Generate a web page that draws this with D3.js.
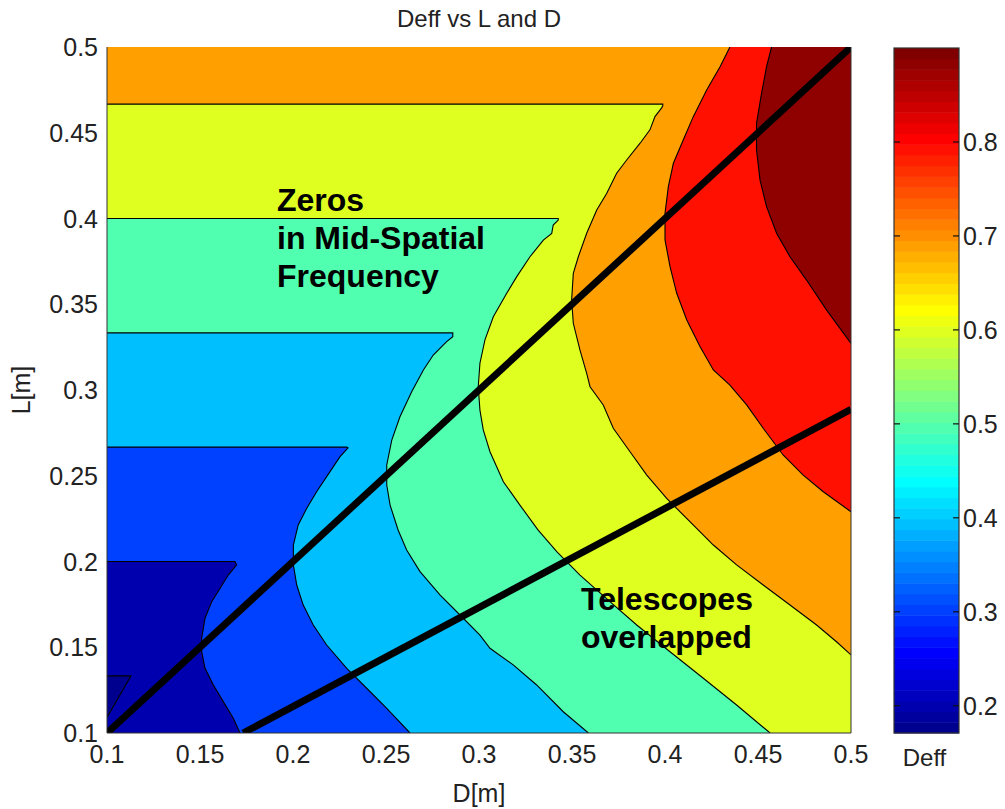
<!DOCTYPE html>
<html>
<head>
<meta charset="utf-8">
<script src="https://cdn.jsdelivr.net/npm/d3@7"></script>
<style>
  html, body { margin: 0; padding: 0; background: #fff; }
  svg { display: block; }
  text { font-family: "Liberation Sans", Arial, sans-serif; fill: #222; }
</style>
</head>
<body>
<svg id="chart" width="1005" height="809"></svg>
<script>
// Contour levels of Deff and the colorbar range
const levels = [0.2, 0.3, 0.4, 0.5, 0.6, 0.7, 0.8, 0.9];
const colorRange = [0.171, 0.9];
const xTicks = [0.1, 0.15, 0.2, 0.25, 0.3, 0.35, 0.4, 0.45, 0.5];
const yTicks = [0.1, 0.15, 0.2, 0.25, 0.3, 0.35, 0.4, 0.45, 0.5];
const cbTicks = [0.2, 0.3, 0.4, 0.5, 0.6, 0.7, 0.8];

// Iso-lines as [D, L] points, one array per level (high values lie to the upper right)
const iso020 = [[0.1, 0.1333], [0.1129, 0.1333], [0.1, 0.109]];
const iso030 = [[0.1, 0.2], [0.1688, 0.2], [0.1697, 0.198], [0.1652, 0.1921], [0.1608, 0.1844],
  [0.1563, 0.1766], [0.1527, 0.1669], [0.1509, 0.1552], [0.1509, 0.1474], [0.1527, 0.1377],
  [0.1572, 0.128], [0.1625, 0.1183], [0.1679, 0.1086], [0.1715, 0.1]];
const iso040 = [[0.1, 0.2667], [0.2289, 0.2667], [0.2296, 0.2662], [0.2253, 0.2611], [0.2199, 0.2524],
  [0.2127, 0.2407], [0.2074, 0.231], [0.2028, 0.2213], [0.2002, 0.2096], [0.2002, 0.198],
  [0.202, 0.1863], [0.2055, 0.1746], [0.2109, 0.163], [0.2181, 0.1513], [0.2289, 0.1377],
  [0.2396, 0.1261], [0.2504, 0.1144], [0.2629, 0.1]];
const iso050 = [[0.1, 0.3333], [0.2859, 0.3333], [0.2859, 0.3311], [0.2826, 0.3282], [0.2754, 0.3204],
  [0.2701, 0.3117], [0.2638, 0.299], [0.2575, 0.2844], [0.2531, 0.2708], [0.2504, 0.2563],
  [0.2504, 0.2446], [0.2522, 0.2329], [0.2565, 0.2184], [0.2611, 0.2067], [0.2683, 0.1941],
  [0.279, 0.1805], [0.2898, 0.1688], [0.3005, 0.1571], [0.3059, 0.1494], [0.3184, 0.1397],
  [0.331, 0.128], [0.3453, 0.1124], [0.3588, 0.1]];
const iso060 = [[0.1, 0.4], [0.3426, 0.4], [0.3426, 0.3991], [0.3399, 0.3962], [0.3391, 0.3913],
  [0.3346, 0.3874], [0.3274, 0.3777], [0.3203, 0.3661], [0.3149, 0.3564], [0.3077, 0.3427],
  [0.3032, 0.3292], [0.3005, 0.3156], [0.2996, 0.3019], [0.3005, 0.2883], [0.3023, 0.2767],
  [0.3059, 0.264], [0.3131, 0.2465], [0.322, 0.2329], [0.3317, 0.2184], [0.3418, 0.2057],
  [0.3543, 0.1921], [0.3704, 0.1766], [0.3848, 0.163], [0.4027, 0.1474], [0.4206, 0.1319],
  [0.4385, 0.1163], [0.4565, 0.1]];
const iso070 = [[0.1, 0.4667], [0.3988, 0.4667], [0.3988, 0.4657], [0.3982, 0.4645], [0.3946, 0.4594],
  [0.3919, 0.4517], [0.3866, 0.4439], [0.3794, 0.4341], [0.374, 0.4264], [0.3687, 0.4147],
  [0.3633, 0.405], [0.3579, 0.3914], [0.3534, 0.3777], [0.3507, 0.368], [0.3498, 0.3525],
  [0.3507, 0.3389], [0.3543, 0.3233], [0.3579, 0.3097], [0.3597, 0.3019], [0.3668, 0.2913],
  [0.3722, 0.2777], [0.3812, 0.264], [0.3902, 0.2504], [0.4009, 0.2368], [0.4134, 0.2232],
  [0.426, 0.2096], [0.4385, 0.198], [0.4528, 0.1863], [0.4672, 0.1746], [0.4815, 0.163],
  [0.4922, 0.1532], [0.5, 0.1455]];
const iso080 = [[0.4349, 0.5], [0.4296, 0.4885], [0.4224, 0.4749], [0.4152, 0.4594], [0.4098, 0.4458],
  [0.4045, 0.4322], [0.4018, 0.4186], [0.4, 0.403], [0.4, 0.3875], [0.4027, 0.3719],
  [0.4063, 0.3564], [0.4117, 0.3408], [0.4188, 0.3253], [0.426, 0.3117], [0.4349, 0.3029],
  [0.4439, 0.2913], [0.4528, 0.2777], [0.4635, 0.2621], [0.4743, 0.2504], [0.4851, 0.2407],
  [0.5, 0.229]];
const iso090 = [[0.4573, 0.5], [0.4546, 0.4885], [0.4519, 0.473], [0.4492, 0.4555], [0.4492, 0.4399],
  [0.4511, 0.4224], [0.4546, 0.4069], [0.46, 0.3914], [0.4672, 0.3777], [0.4761, 0.3641],
  [0.4869, 0.3466], [0.5, 0.3272]];
const isoLines = [iso020, iso030, iso040, iso050, iso060, iso070, iso080, iso090];

// Two boundary lines: L = D and L = D / sqrt(3)
const zerosLine = [[0.1, 0.1], [0.5, 0.5]];
const overlapLine = [[0.1732, 0.1], [0.5, 0.2887]];

// Jet colormap entries used for the filled bands (lowest band first)
const bandJet = [1, 3, 12, 20, 29, 38, 46, 55, 63];

function jet64(i) {
  const u = [];
  for (let k = 1; k <= 16; k++) u.push(k / 16);
  for (let k = 0; k < 15; k++) u.push(1);
  for (let k = 16; k >= 1; k--) u.push(k / 16);
  const at = k => (k >= 1 && k <= u.length) ? u[k - 1] : 0;
  const r = at(i - 24), g = at(i - 8), b = at(i + 8);
  return d3.rgb(Math.round(r * 255), Math.round(g * 255), Math.round(b * 255)).formatHex();
}

const svg = d3.select("#chart");
const plot = { left: 107, top: 47, right: 851, bottom: 733 };
const x = d3.scaleLinear().domain([0.1, 0.5]).range([plot.left, plot.right]);
const y = d3.scaleLinear().domain([0.1, 0.5]).range([plot.bottom, plot.top]);

const defs = svg.append("defs");
defs.append("clipPath").attr("id", "plotClip")
  .append("rect").attr("x", plot.left).attr("y", plot.top)
  .attr("width", plot.right - plot.left).attr("height", plot.bottom - plot.top);

const line = d3.line().x(d => x(d[0])).y(d => y(d[1]));

// Position along the frame, counter-clockwise from the lower-left corner
const eps = 1e-6;
function perim(p) {
  const [D, L] = p;
  if (Math.abs(L - 0.1) < eps) return D - 0.1;
  if (Math.abs(D - 0.5) < eps) return 0.4 + (L - 0.1);
  if (Math.abs(L - 0.5) < eps) return 0.8 + (0.5 - D);
  return 1.2 + (0.5 - L);
}
const corners = [[0.4, [0.5, 0.1]], [0.8, [0.5, 0.5]], [1.2, [0.1, 0.5]], [1.6, [0.1, 0.1]]];

// Region above a level: the iso-line closed along the frame through the high side
function regionPolygon(pts) {
  const ps = perim(pts[0]);
  const pe = perim(pts[pts.length - 1]);
  let target = ps;
  if (target < pe) target += 1.6;
  const poly = pts.slice();
  for (let lap = 0; lap < 2; lap++) {
    corners.forEach(([c, pt]) => {
      const cc = c + lap * 1.6;
      if (cc > pe && cc < target) poly.push(pt);
    });
  }
  return poly;
}

const g = svg.append("g").attr("clip-path", "url(#plotClip)");

// Lowest band fills the whole frame
g.append("rect")
  .attr("x", plot.left).attr("y", plot.top)
  .attr("width", plot.right - plot.left).attr("height", plot.bottom - plot.top)
  .attr("fill", jet64(bandJet[0]));

isoLines.forEach((pts, i) => {
  g.append("path")
    .attr("d", line(regionPolygon(pts)) + "Z")
    .attr("fill", jet64(bandJet[i + 1]))
    .attr("stroke", "none");
});

isoLines.forEach(pts => {
  g.append("path")
    .attr("d", line(pts))
    .attr("fill", "none")
    .attr("stroke", "#000")
    .attr("stroke-width", 1.1);
});

[zerosLine, overlapLine].forEach(pts => {
  g.append("path")
    .attr("d", line(pts))
    .attr("fill", "none")
    .attr("stroke", "#000")
    .attr("stroke-width", 7);
});

// Frame
svg.append("path")
  .attr("d", `M${plot.left},${plot.top}V${plot.bottom}H${plot.right}V${plot.top}`)
  .attr("fill", "none").attr("stroke", "#333").attr("stroke-width", 1);

// Tick labels
const fmt = d => String(d);
svg.append("g").selectAll("text").data(xTicks).join("text")
  .attr("x", d => x(d)).attr("y", 763)
  .attr("text-anchor", "middle").attr("font-size", 25)
  .text(fmt);
svg.append("g").selectAll("text").data(yTicks).join("text")
  .attr("x", plot.left - 9).attr("y", d => y(d) + 9)
  .attr("text-anchor", "end").attr("font-size", 25)
  .text(fmt);

// Titles
svg.append("text").attr("x", (plot.left + plot.right) / 2).attr("y", 27)
  .attr("text-anchor", "middle").attr("font-size", 24).text("Deff vs L and D");
svg.append("text").attr("x", (plot.left + plot.right) / 2).attr("y", 802)
  .attr("text-anchor", "middle").attr("font-size", 25).text("D[m]");
svg.append("text")
  .attr("transform", `translate(30,${(plot.top + plot.bottom) / 2}) rotate(-90)`)
  .attr("text-anchor", "middle").attr("font-size", 25).text("L[m]");

// Annotations
const notes = [
  { x: 277, y: 211, lines: ["Zeros", "in Mid-Spatial", "Frequency"], dy: 38 },
  { x: 581, y: 610, lines: ["Telescopes", "overlapped"], dy: 38 }
];
notes.forEach(n => {
  const t = svg.append("text").attr("font-size", 32).attr("font-weight", "bold")
    .style("fill", "#000");
  n.lines.forEach((s, i) => {
    t.append("tspan").attr("x", n.x).attr("y", n.y + i * n.dy).text(s);
  });
});

// Colorbar
const cb = { left: 894, right: 959, top: 48, bottom: 733 };
const cy = d3.scaleLinear().domain(colorRange).range([cb.bottom, cb.top]);
const stripeH = (cb.bottom - cb.top) / 64;
const cbg = svg.append("g");
cbg.selectAll("rect").data(d3.range(1, 65)).join("rect")
  .attr("x", cb.left).attr("width", cb.right - cb.left)
  .attr("y", d => cb.bottom - d * stripeH).attr("height", stripeH + 0.5)
  .attr("fill", d => jet64(d));
cbg.append("rect")
  .attr("x", cb.left).attr("y", cb.top)
  .attr("width", cb.right - cb.left).attr("height", cb.bottom - cb.top)
  .attr("fill", "none").attr("stroke", "#333").attr("stroke-width", 1.2);
cbTicks.forEach(v => {
  cbg.append("line").attr("x1", cb.left).attr("x2", cb.left + 6)
    .attr("y1", cy(v)).attr("y2", cy(v)).attr("stroke", "#111").attr("stroke-width", 1.2);
  cbg.append("line").attr("x1", cb.right - 6).attr("x2", cb.right)
    .attr("y1", cy(v)).attr("y2", cy(v)).attr("stroke", "#111").attr("stroke-width", 1.2);
  cbg.append("text").attr("x", cb.right + 4).attr("y", cy(v) + 9)
    .attr("font-size", 25).text(String(v));
});
svg.append("text").attr("x", (cb.left + cb.right) / 2 - 2).attr("y", 766)
  .attr("text-anchor", "middle").attr("font-size", 24).text("Deff");
</script>
</body>
</html>
